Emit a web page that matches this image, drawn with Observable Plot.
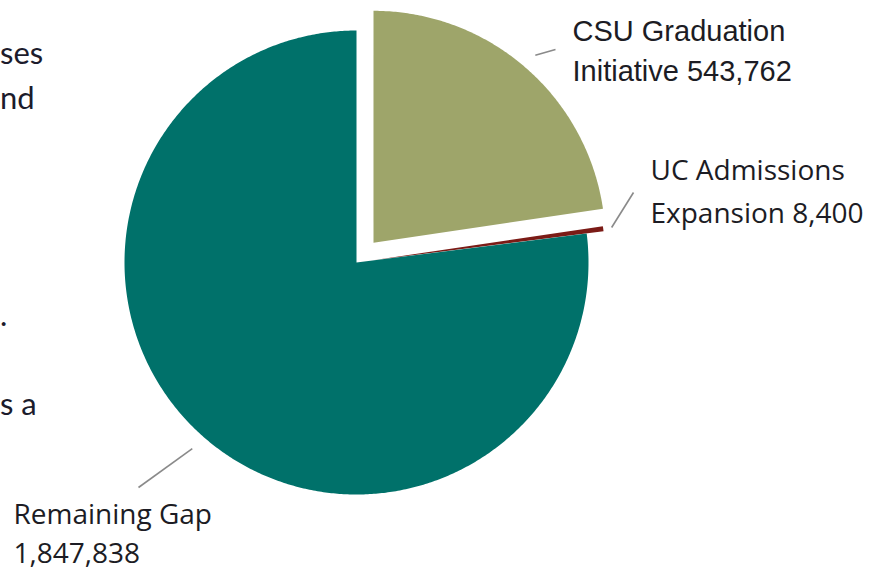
<!DOCTYPE html>
<html><head><meta charset="utf-8">
<script src="https://cdn.jsdelivr.net/npm/d3@7"></script>
<script src="https://cdn.jsdelivr.net/npm/@observablehq/plot@0.6"></script>
<style>
body{margin:0;background:#fff;}
#wrap{position:relative;width:874px;height:573px;overflow:hidden;background:#fff;}
.frag{position:absolute;left:0;font-family:Lato,sans-serif;font-size:31px;color:#1c1c2c;line-height:1;white-space:nowrap;}
#chart{position:absolute;left:0;top:0;}
</style></head><body><div id="wrap"><div id="chart"></div></div>
<script>
// ---- data ----
const categories = ["CSU Graduation Initiative", "UC Admissions Expansion", "Remaining Gap"];
const values = [543762, 8400, 1847838];
const labelTexts = ["CSU Graduation\nInitiative 543,762", "UC Admissions\nExpansion 8,400", "Remaining Gap\n1,847,838"];
const colors = ["#9ea56a", "#7b1b16", "#00716a"];
// surrounding document text fragments (cut off at left edge)
const fragments = ["ses", "nd", ".", "s a"];

// ---- layout ----
const W = 874, H = 573, cx = 356, cy = 262, R = 232;
const explodePx = [26, 17, 0];
const leaderStartR = [1.18, 1.11, 1.07];
const leaderEndPx = [[555, 49], [633, 192], [138, 487]];
// [left x, first baseline, font size, line spacing px]
const labelPx = [[572, 41, 29, 40], [650, 180, 28, 43], [13, 523, 28, 40]];
const fragPx = [62, 107, 324, 413];

fragments.forEach((t, i) => {
  const d = document.createElement("div");
  d.className = "frag";
  d.textContent = t;
  d.style.top = (fragPx[i] - 25) + "px";
  document.getElementById("wrap").appendChild(d);
});

const data = categories.map((c, i) => ({name: c, value: values[i], color: colors[i], explode: explodePx[i], i}));
const arcs = d3.pie().sort(null).value(d => d.value)(data);

const pts = [];
const leaders = [];
arcs.forEach(a => {
  const mid = (a.startAngle + a.endAngle) / 2;
  const e = a.data.explode / R;
  const ox = e * Math.sin(mid), oy = e * Math.cos(mid);
  const name = a.data.name, color = a.data.color;
  pts.push({name, color, x: ox, y: oy});
  const n = Math.max(2, Math.ceil((a.endAngle - a.startAngle) / (Math.PI / 360)));
  for (let k = 0; k <= n; k++) {
    const t = a.startAngle + (a.endAngle - a.startAngle) * k / n;
    pts.push({name, color, x: ox + Math.sin(t), y: oy + Math.cos(t)});
  }
  pts.push({name, color, x: ox, y: oy});
  const r1 = leaderStartR[a.data.i];
  const [ex, ey] = leaderEndPx[a.data.i];
  leaders.push({x1: r1 * Math.sin(mid), y1: r1 * Math.cos(mid), x2: (ex - cx) / R, y2: (cy - ey) / R});
});

const labels = labelTexts.map((t, i) => {
  const [lx, base, fs, sp] = labelPx[i];
  const lh = sp / fs;
  return {text: t, x: (lx - cx) / R, y: (cy - (base - 0.71 * lh * fs)) / R, fs, lh, i};
});

const textMark = (d, font) => Plot.text([d], {x: "x", y: "y", text: "text", textAnchor: "start", lineAnchor: "top",
  fontFamily: font, fontSize: d.fs, lineHeight: d.lh, fill: "#1c1c24"});

const chart = Plot.plot({
  width: W, height: H,
  margin: 0,
  x: {domain: [-cx / R, (W - cx) / R], range: [0, W], axis: null},
  y: {domain: [(cy - H) / R, cy / R], range: [H, 0], axis: null},
  color: {type: "identity"},
  style: {background: "transparent", overflow: "visible"},
  marks: [
    Plot.line(pts, {x: "x", y: "y", z: "name", fill: "color", stroke: null, curve: "linear"}),
    Plot.link(leaders, {x1: "x1", y1: "y1", x2: "x2", y2: "y2", stroke: "#8a8a8a", strokeWidth: 1.6}),
    textMark(labels[0], "Liberation Sans, Arial, sans-serif"),
    textMark(labels[1], "Open Sans, sans-serif"),
    textMark(labels[2], "Open Sans, sans-serif")
  ]
});
document.getElementById("chart").appendChild(chart);
</script>
</body></html>
